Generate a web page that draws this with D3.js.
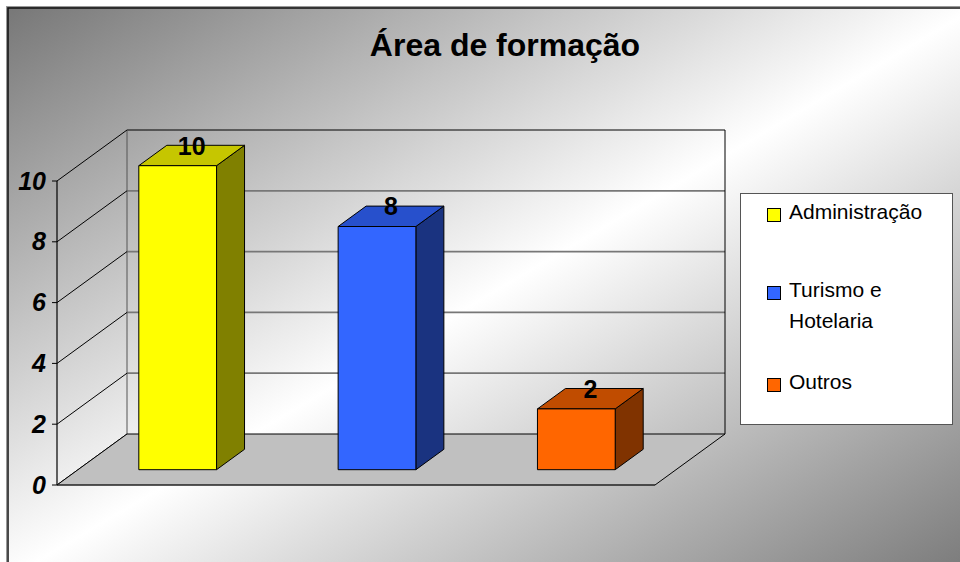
<!DOCTYPE html>
<html>
<head>
<meta charset="utf-8">
<script src="https://cdn.jsdelivr.net/npm/d3@7"></script>
<style>
  html, body { margin: 0; padding: 0; background: #fff; }
  svg { display: block; }
  text { font-family: "Liberation Sans", Arial, sans-serif; }
</style>
</head>
<body>
<svg id="chart" width="960" height="562"></svg>
<script>
// ---- data ----
const categories = ["Administração", "Turismo e Hotelaria", "Outros"];
const values = [10, 8, 2];
const yTicks = [0, 2, 4, 6, 8, 10];
const chartTitle = "Área de formação";

// ---- styles ----
const frontColors = ["#ffff00", "#3366ff", "#ff6600"];
const topColors   = ["#c6c600", "#2750cc", "#c04c00"];
const sideColors  = ["#808000", "#1a3380", "#803300"];

const W = 960, H = 562;
const svg = d3.select("#chart");

// background gradient
const defs = svg.append("defs");
const grad = defs.append("linearGradient").attr("id", "bg")
  .attr("x1", 0).attr("y1", 0).attr("x2", 1).attr("y2", 1);
grad.append("stop").attr("offset", 0).attr("stop-color", "#777777");
grad.append("stop").attr("offset", 0.5).attr("stop-color", "#ffffff");
grad.append("stop").attr("offset", 1).attr("stop-color", "#777777");

svg.append("rect").attr("x", 0).attr("y", 0).attr("width", W).attr("height", H).attr("fill", "#ffffff");
svg.append("rect").attr("x", 7).attr("y", 7).attr("width", W + 10).attr("height", H + 10)
  .attr("fill", "url(#bg)");
svg.append("rect").attr("x", 6.5).attr("y", 6.5).attr("width", W + 10).attr("height", H + 10)
  .attr("fill", "none").attr("stroke", "#999").attr("stroke-width", 1);
svg.append("rect").attr("x", 8).attr("y", 8).attr("width", W + 10).attr("height", H + 10)
  .attr("fill", "none").attr("stroke", "#111").attr("stroke-width", 1.5);

// ---- 3D projection ----
const DX = 70, DY = 51;            // depth offset of the back wall
const x = d3.scaleBand().domain(categories).range([57, 655]).paddingInner(0).paddingOuter(0);
const y = d3.scaleLinear().domain([0, 10]).range([485, 181]);
const P = (sx, v, z) => [sx + z * DX, y(v) - z * DY];
const x0 = x.range()[0], x1 = x.range()[1];
const line = d3.line();

const g = svg.append("g");

// back wall gridlines
yTicks.forEach(t => {
  if (t === 0) return;
  const a = P(x0, t, 1), b = P(x1, t, 1);
  g.append("path").attr("d", line([a, b]))
    .attr("stroke", t === 10 ? "#000" : "#777")
    .attr("stroke-width", t === 10 ? 1 : 1.8).attr("fill", "none");
});
// back wall right & left edges
g.append("path").attr("d", line([P(x1, 10, 1), P(x1, 0, 1)]))
  .attr("stroke", "#000").attr("stroke-width", 1).attr("fill", "none");
g.append("path").attr("d", line([P(x0, 10, 1), P(x0, 0, 1)]))
  .attr("stroke", "#555").attr("stroke-width", 1).attr("fill", "none");

// side wall diagonals
yTicks.forEach(t => {
  g.append("path").attr("d", line([P(x0, t, 0), P(x0, t, 1)]))
    .attr("stroke", "#000").attr("stroke-width", 1).attr("fill", "none");
});

// floor
g.append("path")
  .attr("d", line([P(x0, 0, 0), P(x1, 0, 0), P(x1, 0, 1), P(x0, 0, 1)]) + "Z")
  .attr("fill", "#c0c0c0").attr("stroke", "#000").attr("stroke-width", 1);
g.append("path").attr("d", line([P(x0, 0, 0), P(x1, 0, 0)]))
  .attr("stroke", "#333").attr("stroke-width", 1.2).attr("fill", "none");

// front vertical axis
g.append("path").attr("d", line([P(x0, 0, 0), P(x0, 10, 0)]))
  .attr("stroke", "#000").attr("stroke-width", 1.2).attr("fill", "none");
yTicks.forEach(t => {
  const [px, py] = P(x0, t, 0);
  g.append("path").attr("d", line([[px - 5, py], [px, py]]))
    .attr("stroke", "#000").attr("stroke-width", 1).attr("fill", "none");
  g.append("text").attr("x", px - 11).attr("y", py + 8.5)
    .attr("text-anchor", "end").attr("font-size", 25)
    .attr("font-weight", "bold").attr("font-style", "italic")
    .attr("fill", "#000").text(t);
});

// bars
const z0 = 0.3, z1 = 0.7, wFrac = 0.39;
categories.forEach((c, i) => {
  const bw = x.bandwidth() * wFrac;
  const bx = x(c) + (x.bandwidth() - bw) / 2;
  const v = values[i];
  const fBL = P(bx, 0, z0), fBR = P(bx + bw, 0, z0);
  const fTL = P(bx, v, z0), fTR = P(bx + bw, v, z0);
  const bTL = P(bx, v, z1), bTR = P(bx + bw, v, z1), bBR = P(bx + bw, 0, z1);
  g.append("path").attr("d", line([fBR, fTR, bTR, bBR]) + "Z")
    .attr("fill", sideColors[i]).attr("stroke", "#000").attr("stroke-width", 1).attr("stroke-linejoin", "round");
  g.append("path").attr("d", line([fTL, fTR, bTR, bTL]) + "Z")
    .attr("fill", topColors[i]).attr("stroke", "#000").attr("stroke-width", 1).attr("stroke-linejoin", "round");
  g.append("path").attr("d", line([fBL, fBR, fTR, fTL]) + "Z")
    .attr("fill", frontColors[i]).attr("stroke", "#000").attr("stroke-width", 1).attr("stroke-linejoin", "round");
  const cx = (fTL[0] + bTR[0]) / 2, cy = (fTL[1] + bTR[1]) / 2;
  g.append("text").attr("x", cx).attr("y", cy - 1)
    .attr("text-anchor", "middle").attr("font-size", 25).attr("font-weight", "bold")
    .attr("fill", "#000").text(v);
});

// title
svg.append("text").attr("x", 505).attr("y", 56).attr("text-anchor", "middle")
  .attr("font-size", 32).attr("font-weight", "bold").attr("fill", "#000").text(chartTitle);

// legend
const lg = svg.append("g");
lg.append("rect").attr("x", 740.5).attr("y", 193.5).attr("width", 212).attr("height", 231)
  .attr("fill", "#fff").attr("stroke", "#555").attr("stroke-width", 1);
const legendY = [219, 297, 389];
const maxW = 140;
categories.forEach((c, i) => {
  const by = legendY[i];
  lg.append("rect").attr("x", 767.5).attr("y", by - 10.5).attr("width", 13).attr("height", 13)
    .attr("fill", frontColors[i]).attr("stroke", "#000").attr("stroke-width", 1);
  const t = lg.append("text").attr("x", 789).attr("y", by).attr("font-size", 21).attr("fill", "#000");
  const words = c.split(" ");
  let lineWords = [], lineNo = 0;
  let ts = t.append("tspan").attr("x", 789).attr("y", by);
  words.forEach(wd => {
    lineWords.push(wd);
    ts.text(lineWords.join(" "));
    if (ts.node().getComputedTextLength() > maxW && lineWords.length > 1) {
      lineWords.pop();
      ts.text(lineWords.join(" "));
      lineWords = [wd];
      lineNo++;
      ts = t.append("tspan").attr("x", 789).attr("y", by + lineNo * 31).text(wd);
    }
  });
});
</script>
</body>
</html>
